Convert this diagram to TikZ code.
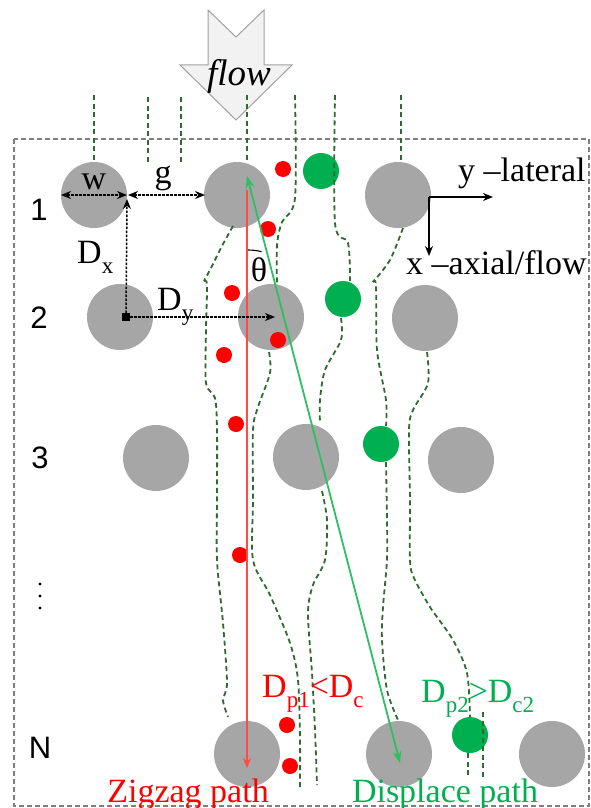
\documentclass[tikz,border=0pt]{standalone}
\usepackage{fontspec}
\setmainfont{Liberation Serif}
\newfontfamily\sansf{Liberation Sans}
\usetikzlibrary{arrows.meta}
\definecolor{postc}{HTML}{A6A6A6}
\definecolor{pgreen}{HTML}{00B050}
\definecolor{lgreen}{HTML}{2EBF62}
\definecolor{sgreen}{HTML}{2F6A2F}
\definecolor{lred}{HTML}{FF4A4A}
\definecolor{boxgrey}{HTML}{7F7F7F}
\definecolor{flowfill}{HTML}{F2F2F2}
\definecolor{flowdraw}{HTML}{A0A0A0}
\newcommand{\lsub}[1]{\raisebox{-0.3em}{\fontsize{23}{23}\selectfont #1}}
\begin{document}
\begin{tikzpicture}[x=1pt,y=-1pt,
  postn/.style={circle, fill=postc, minimum size=66pt, inner sep=0pt},
  gpart/.style={circle, fill=pgreen, minimum size=36pt, inner sep=0pt},
  rpart/.style={circle, fill=red, minimum size=16pt, inner sep=0pt},
  stream/.style={draw=sgreen, line width=1.8pt, dash pattern=on 5pt off 3.5pt},
  dimln/.style={black, line width=1.5pt, dash pattern=on 2.5pt off 1.5pt},
  tip/.style={-{Stealth[length=10pt,width=8pt]}},
  lbl/.style={inner sep=0pt, font=\fontsize{34}{34}\selectfont},
  rowlbl/.style={inner sep=0pt, font=\sansf\fontsize{31}{31}\selectfont}]
\useasboundingbox (0,0) rectangle (591,808);
% box
\draw[boxgrey, line width=1.4pt, dash pattern=on 5pt off 3pt] (14,139) rectangle (589,806);
% flow arrow
\draw[flowdraw, fill=flowfill, line width=1pt] (208,10) -- (236,37) -- (264,10) -- (264,65) -- (292,65) -- (236,120) -- (180,65) -- (208,65) -- cycle;
\node[lbl, font=\itshape\fontsize{37}{37}\selectfont] (flowt) at (239,76) {flow};
% posts
\node[postn] (p11) at (94,195) {};
\node[postn] (p12) at (237,195) {};
\node[postn] (p13) at (398,195) {};
\node[postn] (p21) at (120,317) {};
\node[postn] (p22) at (271,317) {};
\node[postn] (p23) at (425,318) {};
\node[postn] (p31) at (156,458) {};
\node[postn] (p32) at (306,457) {};
\node[postn] (p33) at (461,460) {};
\node[postn] (pN2) at (247,754) {};
\node[postn] (pN3) at (399,754) {};
\node[postn] (pN4) at (552,754) {};
% green particles
\node[gpart] (g1) at (321,171) {};
\node[gpart] (g2) at (343,299) {};
\node[gpart] (g3) at (381,444) {};
\node[gpart] (gN) at (470,735) {};
% streamlines
\draw[stream] (94,95) -- (94,162);
\draw[stream] (148,97) -- (148,163);
\draw[stream] (181,97) -- (181,163);
\draw[stream] (247,95) -- (247,162);
\draw[stream] (401,95) -- (401,162);
\draw[stream] plot[smooth, tension=0.5] coordinates {(233,226) (222,246) (212,266) (204,281)};
\draw[stream] plot[smooth, tension=0.5] coordinates {(204,281) (207,285) (206,330) (206,383) (215,398) (217,430) (217,500) (217,560) (223,623) (227,683) (223,700) (228,717)};
\draw[stream] plot[smooth, tension=0.5] coordinates {(295,95) (295,198) (282,222) (277,245) (277,283)};
\draw[stream] plot[smooth, tension=0.5] coordinates {(269,352) (270,373) (258,407) (253,430) (253,500) (253,560) (270,595) (290,643) (298,680) (300,740) (300,787)};
\draw[stream] plot[smooth, tension=0.5] coordinates {(335,95) (335,223) (348,243) (350,281)};
\draw[stream] plot[smooth, tension=0.5] coordinates {(341,318) (341,340) (325,370) (320,400) (320,423)};
\draw[stream] plot[smooth, tension=0.5] coordinates {(322,491) (327,520) (325,560) (313,585) (308,613) (312,673) (315,730) (317,785)};
\draw[stream] plot[smooth, tension=0.5] coordinates {(403,228) (390,260) (373,282)};
\draw[stream] plot[smooth, tension=0.5] coordinates {(373,282) (376,286) (377,350) (386,400) (386,426)};
\draw[stream] plot[smooth, tension=0.5] coordinates {(386,462) (387,520) (387,560) (383,607) (382,640) (387,690) (398,720)};
\draw[stream] plot[smooth, tension=0.5] coordinates {(427,352) (428,383) (413,410) (409,430) (410,500) (410,560) (414,578) (430,607) (453,640) (467,673) (470,717)};
\draw[stream] (483,712) -- (483,778);
\draw[stream] (468,753) -- (468,775);
% red particles
\node[rpart] (r1) at (283,169) {};
\node[rpart] (r2) at (268,229) {};
\node[rpart] (r3) at (232,293) {};
\node[rpart] (r4) at (278,340) {};
\node[rpart] (r5) at (224,355) {};
\node[rpart] (r6) at (236,424) {};
\node[rpart] (r7) at (240,555) {};
\node[rpart] (r8) at (287,725) {};
\node[rpart] (r9) at (290,766) {};
% zigzag and displace paths
\coordinate (ztop) at (247,190);
\coordinate (zbot) at (247,768);
\coordinate (dtop) at (247,176);
\coordinate (dbot) at (400,763);
\draw[lred, line width=1.8pt, tip] (ztop) -- (zbot);
\draw[lgreen, line width=1.8pt, {Stealth[length=12pt,width=9pt]}-{Stealth[length=12pt,width=9pt]}] (dtop) -- (dbot);
% theta
\draw[black, line width=1.1pt] (248,250) arc[start angle=-90, end angle=-76, radius=56];
\node[lbl] (theta) at (259,270) {θ};
% dimension arrows
\coordinate (wl) at (61,195);
\coordinate (wr) at (127,195);
\coordinate (gl) at (128,195);
\coordinate (gr) at (205,195);
\coordinate (dxb) at (126,317);
\coordinate (dxt) at (127,199);
\coordinate (dyr) at (275,317);
\draw[dimln, {Stealth[length=10pt,width=8pt]}-{Stealth[length=10pt,width=8pt]}] (wl) -- (wr);
\draw[dimln, {Stealth[length=10pt,width=8pt]}-{Stealth[length=10pt,width=8pt]}] (gl) -- (gr);
\draw[dimln, tip] (dxb) -- (dxt);
\draw[dimln, tip] (dxb) -- (dyr);
\fill[black] (122,313) rectangle (130,321);
\node[lbl] (wlab) at (94,182) {w};
\node[lbl] (glab) at (163,178) {g};
\node[lbl, anchor=base west] (dxlab) at (77,263) {D\lsub{x}};
\node[lbl, anchor=base west] (dylab) at (157,310) {D\lsub{y}};
% axes
\coordinate (ax0) at (429,197);
\coordinate (axy) at (493,197);
\coordinate (axx) at (429,256);
\draw[black, line width=1.5pt, tip] (ax0) -- (axy);
\draw[black, line width=1.5pt, tip] (ax0) -- (axx);
\node[lbl, anchor=base west] (ylab) at (458,181) {y –lateral};
\node[lbl, anchor=base west] (xlab) at (406,274) {x –axial/flow};
% row labels
\node[rowlbl] (row1) at (39,210) {1};
\node[rowlbl] (row2) at (39,318) {2};
\node[rowlbl] (row3) at (40,458) {3};
\node[rowlbl] (rowN) at (40,748) {N};
\fill (40,584) circle (1.7pt) (40,596) circle (1.7pt) (40,608) circle (1.7pt);
% bottom labels
\node[lbl, red, anchor=base west] (dp1) at (262,697) {D\lsub{p1}<D\lsub{c}};
\node[lbl, pgreen, anchor=base west] (dp2) at (421,702) {D\lsub{p2}>D\lsub{c2}};
\node[lbl, red, anchor=base] (zz) at (188,802) {Zigzag path};
\node[lbl, pgreen, anchor=base] (dd) at (445,802) {Displace path};
\end{tikzpicture}
\end{document}
